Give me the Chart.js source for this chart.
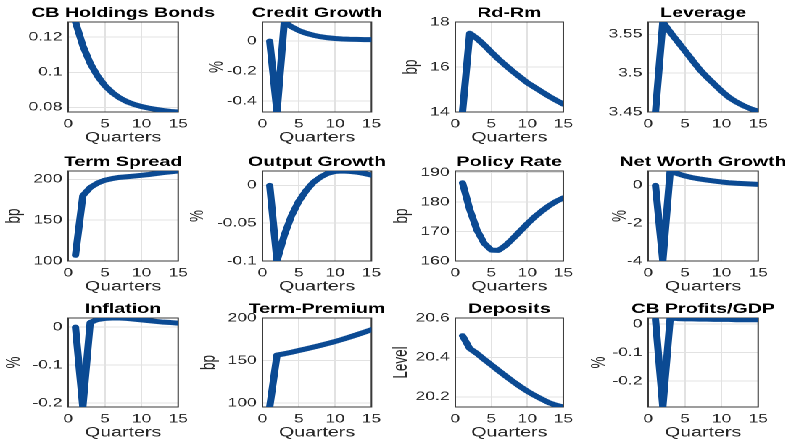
<!DOCTYPE html>
<html>
<head>
<meta charset="utf-8">
<script src="https://cdn.jsdelivr.net/npm/chart.js@4/dist/chart.umd.min.js"></script>
<style>
  html, body { margin: 0; padding: 0; background: #fff; overflow: hidden; }
  /* the source figure is stretched sideways, so the whole grid is drawn narrow and widened */
  #fig { position: relative; height: 444px; transform: scaleX(1.45); transform-origin: 0 0; }
  #fig canvas { position: absolute; }
</style>
</head>
<body>
<div id="fig"></div>
<script>
// x axis: quarters after the shock
var quarters = [1, 2, 3, 4, 5, 6, 7, 8, 9, 10, 11, 12, 13, 14, 15];
var xTicks = [0, 5, 10, 15];

// series
var cbHoldings     = [0.1287, 0.1152, 0.1052, 0.0979, 0.0924, 0.0884, 0.0854, 0.0832, 0.0816, 0.0804, 0.0795, 0.0788, 0.0781, 0.0776, 0.0773];
var creditGrowth   = [0, -0.4725, 0.127, 0.095, 0.07, 0.052, 0.039, 0.029, 0.022, 0.017, 0.014, 0.012, 0.011, 0.010, 0.010];
var rdRm           = [14.0, 17.5, 17.27, 16.98, 16.66, 16.35, 16.07, 15.8, 15.55, 15.3, 15.1, 14.9, 14.7, 14.52, 14.35];
var leverage       = [3.45, 3.566, 3.553, 3.541, 3.529, 3.517, 3.505, 3.495, 3.486, 3.477, 3.469, 3.463, 3.458, 3.454, 3.451];
var termSpread     = [107, 180, 190, 195.5, 199, 201, 202.5, 203.3, 204.1, 205, 206, 207.2, 208.4, 209.4, 210.3];
var outputGrowth   = [0, -0.1, -0.066, -0.040, -0.021, -0.007, 0.004, 0.011, 0.016, 0.0185, 0.019, 0.0185, 0.0175, 0.0157, 0.0136];
var policyRate     = [186.5, 177.5, 170.5, 166, 163.7, 163.6, 165.3, 167.6, 170.1, 172.6, 174.9, 176.9, 178.7, 180.2, 181.4];
var netWorthGrowth = [0, -4.0, 0.76, 0.62, 0.5, 0.41, 0.34, 0.28, 0.23, 0.18, 0.14, 0.11, 0.09, 0.07, 0.05];
var inflation      = [0, -0.2105, 0.012, 0.02, 0.023, 0.024, 0.024, 0.023, 0.021, 0.019, 0.017, 0.015, 0.013, 0.012, 0.0105];
var termPremium    = [95.5, 156.5, 158, 159.8, 161.8, 163.8, 165.8, 167.9, 170.1, 172.4, 174.9, 177.6, 180.4, 183.3, 186.3];
var deposits       = [20.51, 20.445, 20.42, 20.39, 20.362, 20.333, 20.305, 20.278, 20.252, 20.228, 20.207, 20.188, 20.17, 20.157, 20.148];
var cbProfits      = [0.016, -0.29, 0.021, 0.019, 0.018, 0.018, 0.017, 0.017, 0.016, 0.016, 0.016, 0.015, 0.015, 0.015, 0.015];

// y tick labels
var cbHoldingsTicks   = [0.08, 0.1, 0.12];
var creditGrowthTicks = [-0.4, -0.2, 0];
var rdRmTicks         = [14, 16, 18];
var leverageTicks     = [3.45, 3.5, 3.55];
var termSpreadTicks   = [100, 150, 200];
var outputGrowthTicks = [-0.1, -0.05, 0];
var policyRateTicks   = [160, 170, 180, 190];
var netWorthTicks     = [-4, -2, 0];
var inflationTicks    = [-0.2, -0.1, 0];
var termPremiumTicks  = [100, 150, 200];
var depositsTicks     = [20.2, 20.4, 20.6];
var cbProfitsTicks    = [-0.2, -0.1, 0];

var panels = [
  { title: 'CB Holdings Bonds', y: cbHoldings,     ticks: cbHoldingsTicks,   lim: [0.0773, 0.1287],  yLabel: '',      xLabel: 'Quarters' },
  { title: 'Credit Growth',     y: creditGrowth,   ticks: creditGrowthTicks, lim: [-0.4725, 0.127],  yLabel: '%',     xLabel: 'Quarters' },
  { title: 'Rd-Rm',             y: rdRm,           ticks: rdRmTicks,         lim: [14, 18],          yLabel: 'bp',    xLabel: 'Quarters' },
  { title: 'Leverage',          y: leverage,       ticks: leverageTicks,     lim: [3.45, 3.566],     yLabel: '',      xLabel: '' },
  { title: 'Term Spread',       y: termSpread,     ticks: termSpreadTicks,   lim: [100, 210.3],      yLabel: 'bp',    xLabel: 'Quarters' },
  { title: 'Output Growth',     y: outputGrowth,   ticks: outputGrowthTicks, lim: [-0.1, 0.019],     yLabel: '%',     xLabel: 'Quarters' },
  { title: 'Policy Rate',       y: policyRate,     ticks: policyRateTicks,   lim: [160, 190.5],      yLabel: 'bp',    xLabel: 'Quarters' },
  { title: 'Net Worth Growth',  y: netWorthGrowth, ticks: netWorthTicks,     lim: [-4, 0.76],        yLabel: '%',     xLabel: 'Quarters' },
  { title: 'Inflation',         y: inflation,      ticks: inflationTicks,    lim: [-0.2105, 0.024],  yLabel: '%',     xLabel: 'Quarters' },
  { title: 'Term-Premium',      y: termPremium,    ticks: termPremiumTicks,  lim: [95.5, 200],       yLabel: 'bp',    xLabel: 'Quarters' },
  { title: 'Deposits',          y: deposits,       ticks: depositsTicks,     lim: [20.148, 20.6],    yLabel: 'Level', xLabel: 'Quarters' },
  { title: 'CB Profits/GDP',    y: cbProfits,      ticks: cbProfitsTicks,    lim: [-0.29, 0.021],    yLabel: '%',     xLabel: 'Quarters' }
];

//--------------------------- layout (reference pixels)
var S = 1.45;
var colL = [68, 262, 456, 648], colR = [178, 371, 564, 758];
var rowT = [22, 171, 318],      rowB = [112, 261, 407];
var yTitleOff = [0, 45, 44, 0, 54, 65, 53, 28, 54, 53, 54, 49];
var SIDE = 50, TOP = 24, BOT = 34;

var LINE = '#0b4a93', GRID = '#e2e2e2', BOX = '#3a3a3a', TXT = '#262626';
var FONT = '"Liberation Sans", Arial, Helvetica, sans-serif';
Chart.defaults.font.family = FONT;

var fig = document.getElementById('fig');
fig.style.width = (785 / S) + 'px';

// box round the axes, title above, rotated y label
var panelDeco = {
  id: 'panelDeco',
  beforeDatasetsDraw: function (chart) {
    var a = chart.chartArea, ctx = chart.ctx;
    ctx.save();
    ctx.strokeStyle = BOX;
    ctx.lineWidth = 1;
    ctx.strokeRect(a.left, a.top, a.right - a.left, a.bottom - a.top);
    ctx.restore();
  },
  afterDraw: function (chart, args, opts) {
    var a = chart.chartArea, ctx = chart.ctx;
    ctx.save();
    ctx.fillStyle = '#000';
    ctx.font = 'bold 13.5px ' + FONT;
    ctx.textAlign = 'center';
    ctx.textBaseline = 'alphabetic';
    ctx.fillText(opts.title, (a.left + a.right) / 2, a.top - 5);
    if (opts.yLabel) {
      ctx.translate(a.left - opts.off, (a.top + a.bottom) / 2);
      ctx.rotate(-Math.PI / 2);
      ctx.fillStyle = TXT;
      ctx.font = '13.5px ' + FONT;
      ctx.textBaseline = 'middle';
      ctx.fillText(opts.yLabel, 0, 0);
    }
    ctx.restore();
  }
};

panels.forEach(function (p, i) {
  var c = i % 4, r = Math.floor(i / 4);
  var pw = (colR[c] - colL[c]) / S, ph = rowB[r] - rowT[r];
  var w = Math.ceil(pw + 2 * SIDE), h = TOP + ph + BOT;

  var cv = document.createElement('canvas');
  cv.width = w;
  cv.height = h;
  cv.style.left = (colL[c] / S - SIDE) + 'px';
  cv.style.top = (rowT[r] - TOP) + 'px';
  fig.appendChild(cv);

  new Chart(cv, {
    type: 'line',
    data: {
      datasets: [{
        data: quarters.map(function (q, k) { return { x: q, y: p.y[k] }; }),
        borderColor: LINE,
        borderWidth: 5,
        borderJoinStyle: 'round',
        borderCapStyle: 'round',
        pointRadius: 0,
        tension: 0,
        fill: false
      }]
    },
    options: {
      responsive: false,
      animation: false,
      devicePixelRatio: 2,
      layout: { padding: { left: 0, right: w - SIDE - pw, top: TOP, bottom: 0 } },
      plugins: {
        legend: { display: false },
        tooltip: { enabled: false },
        panelDeco: { title: p.title, yLabel: p.yLabel, off: yTitleOff[i] / S }
      },
      scales: {
        x: {
          type: 'linear', min: 0, max: 15,
          grid: { color: GRID, drawTicks: false },
          border: { display: false },
          afterBuildTicks: function (s) { s.ticks = xTicks.map(function (v) { return { value: v }; }); },
          afterFit: function (s) { s.height = BOT; },
          ticks: { padding: 5, color: TXT, font: { size: 12 }, autoSkip: false, maxRotation: 0,
                   callback: function (v) { return String(v); } },
          title: { display: !!p.xLabel, text: p.xLabel, color: TXT, font: { size: 13.5 }, padding: 0 }
        },
        y: {
          type: 'linear', min: p.lim[0], max: p.lim[1],
          grid: { color: GRID, drawTicks: false },
          border: { display: false },
          afterBuildTicks: function (s) { s.ticks = p.ticks.map(function (v) { return { value: v }; }); },
          afterFit: function (s) { s.width = SIDE; },
          ticks: { padding: 4, color: TXT, font: { size: 12 }, autoSkip: false,
                   callback: function (v) { return String(v); } }
        }
      }
    },
    plugins: [panelDeco]
  });
});
</script>
</body>
</html>
